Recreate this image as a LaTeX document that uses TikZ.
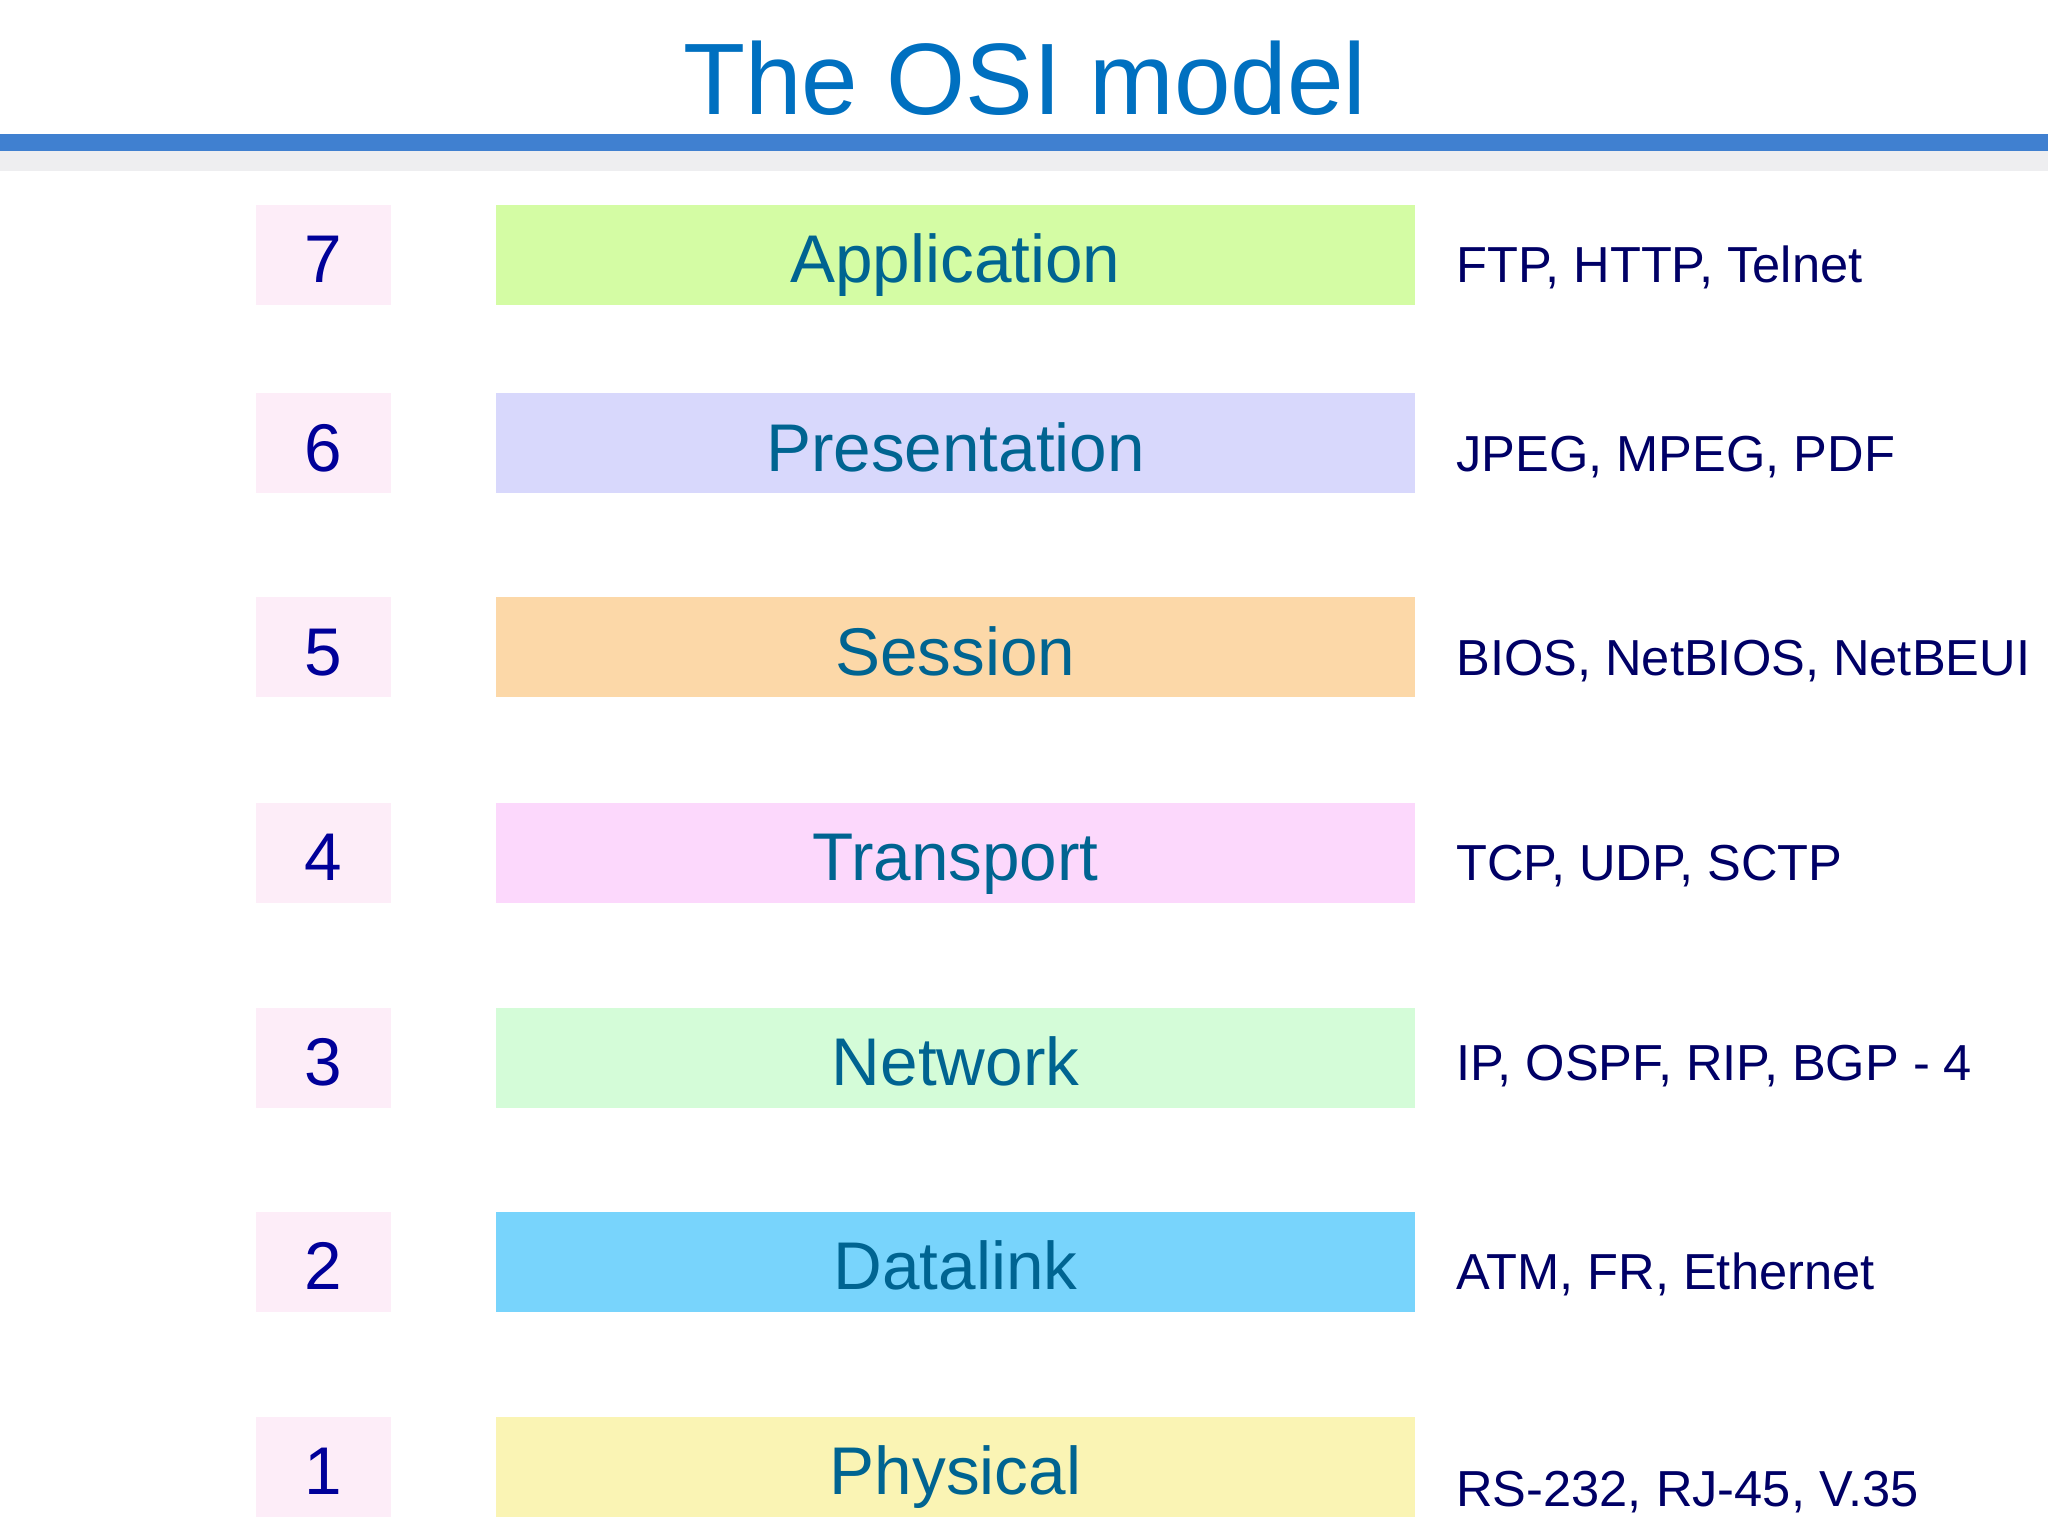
\documentclass[tikz,border=0pt]{standalone}
\usepackage{fontspec}
\setmainfont{Liberation Sans}
\usetikzlibrary{positioning}
\definecolor{titleblue}{HTML}{0070C0}
\definecolor{barblue}{HTML}{4080D0}
\definecolor{bandgray}{HTML}{EEEEF0}
\definecolor{numfill}{HTML}{FDEDF8}
\definecolor{numtxt}{HTML}{000099}
\definecolor{layertxt}{HTML}{006491}
\definecolor{prototxt}{HTML}{000066}
\definecolor{appfill}{HTML}{D4FCA4}
\definecolor{presfill}{HTML}{D8D8FC}
\definecolor{sessfill}{HTML}{FCD8A8}
\definecolor{transfill}{HTML}{FCD8FC}
\definecolor{netfill}{HTML}{D4FCD8}
\definecolor{linkfill}{HTML}{78D4FC}
\definecolor{physfill}{HTML}{FAF4B4}
\begin{document}
\begin{tikzpicture}[line join = round, line cap = round,
	layer/.style={minimum width=9.19cm, minimum height=1cm, inner sep=0pt, text height=0.56cm, text depth=0pt, text=layertxt, font=\fontsize{19.2}{23}\selectfont},
	num/.style={fill=numfill, minimum width=1.35cm, minimum height=1cm, inner sep=0pt, text height=0.56cm, text depth=0pt, text=numtxt, font=\fontsize{19.2}{23}\selectfont},
	proto/.style={inner sep=0pt, anchor=west, text height=0.56cm, text depth=0pt, text=prototxt, font=\fontsize{14.4}{17}\selectfont}]
	%Khung hình và tiêu đề
	\useasboundingbox (0,0) rectangle (20.48,15.36);
	\fill[white] (0,0) rectangle (20.48,15.36);
	\node[anchor=base, inner sep=0pt, text=titleblue, font=\fontsize{28.9}{34}\selectfont] (title) at (10.25,14.21) {The OSI model};
	\fill[barblue] (0,13.845) rectangle (20.48,14.015);
	\fill[bandgray] (0,13.65) rectangle (20.48,13.845);
	%Các tầng
	\foreach \n/\y/\name/\col/\dy/\proto in {7/12.81/Application/appfill/0/{FTP, HTTP, Telnet},6/10.925/Presentation/presfill/0/{JPEG, MPEG, PDF},5/8.885/Session/sessfill/0/{BIOS, NetBIOS, NetBEUI},4/6.83/Transport/transfill/0/{TCP, UDP, SCTP},3/4.78/Network/netfill/0.05/{IP, OSPF, RIP, BGP - 4},2/2.74/Datalink/linkfill/0/{ATM, FR, Ethernet},1/0.69/Physical/physfill/-0.12/{RS-232, RJ-45, V.35}}
	{\node[layer, fill=\col] (L\n) at (9.555,\y) {\name};
		\node[num, left=1.04cm of L\n] (N\n) {\n};
		\node[proto, right=0.4cm of L\n, yshift=\dy cm] (P\n) {\proto};}
\end{tikzpicture}
\end{document}
